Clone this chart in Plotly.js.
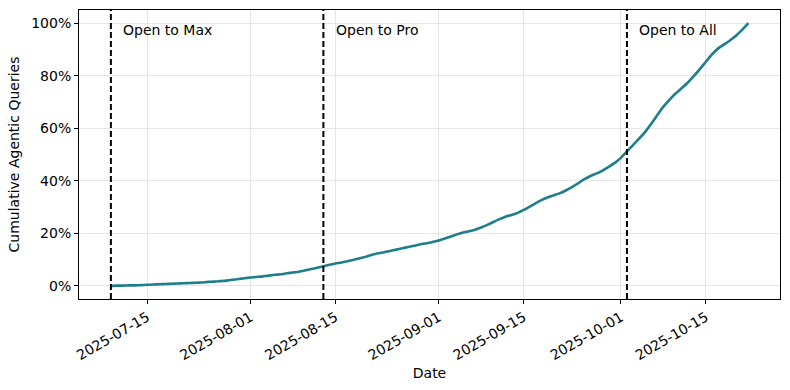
<!DOCTYPE html>
<html>
<head>
<meta charset="utf-8">
<script src="https://cdn.plot.ly/plotly-3.0.1.min.js"></script>
<style>
  body { margin: 0; background: #fff; }
  #chart { width: 790px; height: 390px; }
</style>
</head>
<body>
<div id="chart"></div>
<script>
// daily cumulative share, starting 2025-07-09
var startDate = '2025-07-09';
var cumShare = [
  0.000, 0.001, 0.001, 0.002, 0.002, 0.003, 0.004, 0.005, 0.006, 0.007,
  0.008, 0.009, 0.010, 0.011, 0.012, 0.013, 0.015, 0.016, 0.018, 0.020,
  0.023, 0.026, 0.029, 0.032, 0.034, 0.036, 0.039, 0.042, 0.044, 0.048,
  0.051, 0.054, 0.059, 0.064, 0.069, 0.075, 0.080, 0.085, 0.089, 0.094,
  0.099, 0.105, 0.111, 0.118, 0.124, 0.128, 0.133, 0.138, 0.143, 0.148,
  0.153, 0.158, 0.162, 0.167, 0.173, 0.180, 0.188, 0.196, 0.203, 0.208,
  0.214, 0.222, 0.232, 0.243, 0.254, 0.263, 0.270, 0.278, 0.289, 0.302,
  0.315, 0.327, 0.337, 0.345, 0.353, 0.364, 0.377, 0.391, 0.406, 0.418,
  0.428, 0.439, 0.453, 0.468, 0.487, 0.512, 0.536, 0.560, 0.586, 0.617,
  0.650, 0.682, 0.708, 0.732, 0.752, 0.773, 0.798, 0.825, 0.853, 0.881,
  0.903, 0.919, 0.935, 0.953, 0.975, 1.000
];

// rollout milestones
var eventDates = ['2025-07-09', '2025-08-13', '2025-10-02'];
var eventLabelDates = ['2025-07-11', '2025-08-15', '2025-10-04'];
var eventLabels = ['Open to Max', 'Open to Pro', 'Open to All'];

var xTicks = ['2025-07-15', '2025-08-01', '2025-08-15', '2025-09-01', '2025-09-15', '2025-10-01', '2025-10-15'];
var yTicks = [0, 0.2, 0.4, 0.6, 0.8, 1.0];

var dates = [];
var d0 = new Date(startDate + 'T00:00:00Z');
for (var i = 0; i < cumShare.length; i++) {
  var d = new Date(d0.getTime() + i * 86400000);
  dates.push(d.toISOString().slice(0, 10));
}

var trace = {
  x: dates,
  y: cumShare,
  type: 'scatter',
  mode: 'lines',
  line: { color: '#1e7f8a', width: 2.6, shape: 'spline', smoothing: 0.4 },
  hoverinfo: 'skip'
};

var shapes = eventDates.map(function (dt) {
  return {
    type: 'line', xref: 'x', yref: 'paper',
    x0: dt, x1: dt, y0: 0, y1: 1,
    line: { color: 'black', width: 2, dash: '6px,3px' }
  };
});

var annotations = eventLabels.map(function (txt, k) {
  return {
    x: eventLabelDates[k], y: 0.975, xref: 'x', yref: 'y',
    text: txt, showarrow: false, xanchor: 'left', yanchor: 'middle',
    xshift: -2,
    font: { size: 14, color: 'black' }
  };
});

var layout = {
  width: 790,
  height: 390,
  margin: { l: 79, r: 10, t: 10, b: 91 },
  paper_bgcolor: 'white',
  plot_bgcolor: 'white',
  font: { family: 'DejaVu Sans, sans-serif', size: 14, color: 'black' },
  showlegend: false,
  xaxis: {
    type: 'date',
    range: ['2025-07-03 18:00', '2025-10-27 05:00'],
    tickmode: 'array',
    tickvals: xTicks,
    ticktext: xTicks,
    tickangle: -30,
    ticks: 'outside', ticklen: 4, tickcolor: 'black',
    showgrid: true, gridcolor: '#e6e6e6', gridwidth: 1,
    showline: true, linecolor: 'black', linewidth: 1, mirror: true,
    zeroline: false,
    title: { text: 'Date', standoff: 6, font: { size: 14 } }
  },
  yaxis: {
    range: [-0.05, 1.05],
    tickmode: 'array',
    tickvals: yTicks,
    tickformat: '.0%',
    ticks: 'outside', ticklen: 4, tickcolor: 'black',
    showgrid: true, gridcolor: '#e6e6e6', gridwidth: 1,
    showline: true, linecolor: 'black', linewidth: 1, mirror: true,
    zeroline: false,
    title: { text: 'Cumulative Agentic Queries', standoff: 8, font: { size: 14 } }
  },
  shapes: shapes,
  annotations: annotations
};

Plotly.newPlot('chart', [trace], layout, { displayModeBar: false, staticPlot: true });
</script>
</body>
</html>
